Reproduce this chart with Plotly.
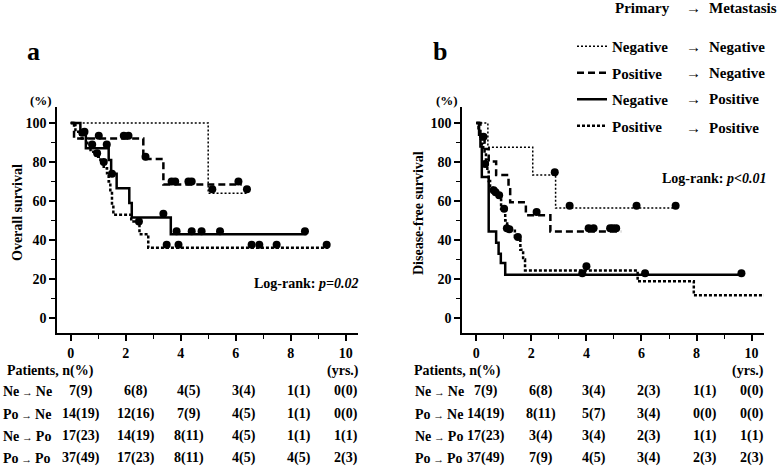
import plotly.graph_objects as go

W, H = 778, 467
FONT = "Liberation Serif, Times New Roman, serif"

# ---------------- panel a : overall survival (years, %) ----------------
a_nene_t = [0, 5.0, 6.45]
a_nene_s = [100, 64, 64]
a_nene_ct = [5.15, 6.41]
a_nene_cs = [66, 66]

a_pone_t = [0, 0.12, 2.64, 3.37, 6.22]
a_pone_s = [100, 92, 81.5, 68.5, 68.5]
a_pone_ct = [1.02, 1.93, 2.1, 2.72, 3.67, 3.8, 4.28, 4.4, 6.1]
a_pone_cs = [93.5, 93.5, 93.5, 82.7, 70, 70, 70, 70, 70]

a_nepo_t = [0, 0.35, 0.55, 1.38, 1.47, 1.67, 2.13, 2.22, 3.64, 8.58]
a_nepo_s = [100, 94, 87, 81, 74, 66.5, 59, 51.5, 43, 43]
a_nepo_ct = [0.42, 1.31, 3.37, 3.85, 4.4, 4.76, 5.43, 8.52]
a_nepo_cs = [95, 89, 53.5, 44.5, 44.5, 44.5, 44.5, 44.5]

a_popo_t = [0, 0.17, 0.4, 0.6, 0.72, 0.9, 1.08, 1.2, 1.32, 1.38, 1.44, 1.5,
            1.55, 2.2, 2.5, 2.82, 9.37]
a_popo_s = [100, 95.5, 92, 88.7, 85.3, 82.7, 80.2, 76.8, 74.2, 70, 64.8, 58,
            53, 49.5, 43, 36, 36]
a_popo_ct = [0.5, 0.78, 0.96, 1.2, 1.5, 2.48, 3.49, 3.92, 6.58, 6.86, 7.49, 9.31]
a_popo_cs = [95.5, 89, 84.5, 80, 74, 49.5, 37.5, 37.5, 37.5, 37.5, 37.5, 37.5]

# ---------------- panel b : disease-free survival ----------------
b_nene_t = [0, 0.42, 2.05, 2.88, 7.27]
b_nene_s = [100, 87.5, 73.3, 56.4, 56.4]
b_nene_ct = [2.85, 3.39, 5.82, 7.24]
b_nene_cs = [74.7, 57.6, 57.6, 57.6]

b_pone_t = [0, 0.15, 0.3, 0.45, 0.72, 1.17, 1.23, 1.8, 2.69, 5.26]
b_pone_s = [100, 93, 86.7, 80.2, 73.3, 66, 59.3, 52.7, 44.4, 44.4]
b_pone_ct = [2.19, 4.08, 4.26, 4.86, 4.96, 5.08]
b_pone_cs = [54.3, 46, 46, 46, 46, 46]

b_nepo_t = [0, 0.1, 0.15, 0.2, 0.45, 0.72, 0.81, 0.89, 1.05, 9.65]
b_nepo_s = [100, 94, 88, 72.3, 44.4, 38.6, 33, 28.2, 22.2, 22.2]
b_nepo_ct = [3.85, 6.13, 9.63]
b_nepo_cs = [23, 23, 23]

b_popo_t = [0, 0.08, 0.12, 0.16, 0.2, 0.25, 0.3, 0.35, 0.4, 0.45, 0.5, 0.6,
            0.75, 0.9, 1.05, 1.12, 1.4, 1.6, 1.7, 1.77, 5.86, 7.9, 10.49]
b_popo_s = [100, 97.3, 94.6, 91.9, 89.2, 86.5, 83.8, 81.1, 75.7, 70.3, 67.6, 64.9,
            62, 56, 50, 45.5, 41.5, 35, 30, 24.4, 18.8, 11.6, 11.6]
b_popo_ct = [0.26, 0.32, 0.63, 0.7, 0.83, 1.01, 1.11, 1.2, 1.51, 4.0, 10.47]
b_popo_cs = [93, 79, 65.5, 64.5, 63, 56, 46, 45.5, 41.5, 26.5, 13.2]

# ---------------- numbers at risk ----------------
risk_years = [0, 2, 4, 6, 8, 10]
ARR = "<span style='font-size:11px'> \u2192 </span>"
row_labels = ["Ne" + ARR + "Ne", "Po" + ARR + "Ne", "Ne" + ARR + "Po", "Po" + ARR + "Po"]
a_risk_nene = ["7(9)", "6(8)", "4(5)", "3(4)", "1(1)", "0(0)"]
a_risk_pone = ["14(19)", "12(16)", "7(9)", "4(5)", "1(1)", "0(0)"]
a_risk_nepo = ["17(23)", "14(19)", "8(11)", "4(5)", "1(1)", "1(1)"]
a_risk_popo = ["37(49)", "17(23)", "8(11)", "4(5)", "4(5)", "2(3)"]
b_risk_nene = ["7(9)", "6(8)", "3(4)", "2(3)", "1(1)", "0(0)"]
b_risk_pone = ["14(19)", "8(11)", "5(7)", "3(4)", "0(0)", "0(0)"]
b_risk_nepo = ["17(23)", "3(4)", "3(4)", "2(3)", "1(1)", "1(1)"]
b_risk_popo = ["37(49)", "7(9)", "4(5)", "3(4)", "2(3)", "2(3)"]

# legend text
legend_first = ["Negative", "Positive", "Negative", "Positive"]
legend_second = ["Negative", "Negative", "Positive", "Positive"]

styles = [
    dict(width=1.5, dash="2px,2px"),
    dict(width=2.5, dash="7px,4px"),
    dict(width=2.5, dash="solid"),
    dict(width=2.5, dash="3px,2px"),
]


def px(x):
    return x / W


def py(y):
    return 1 - y / H


fig = go.Figure()


def add_km(t, s, ct, cs, k, xa, ya, show):
    grp = "g%d" % k
    fig.add_trace(go.Scatter(
        x=t, y=s, mode="lines", xaxis=xa, yaxis=ya,
        line=dict(shape="hv", color="black", **styles[k]),
        name=legend_first[k], legendgroup=grp, showlegend=show,
        hoverinfo="skip"))
    fig.add_trace(go.Scatter(
        x=ct, y=cs, mode="markers", xaxis=xa, yaxis=ya,
        marker=dict(symbol="circle", size=8, color="black"),
        legendgroup=grp, showlegend=False, cliponaxis=False))


panel_a = [(a_nene_t, a_nene_s, a_nene_ct, a_nene_cs),
           (a_pone_t, a_pone_s, a_pone_ct, a_pone_cs),
           (a_nepo_t, a_nepo_s, a_nepo_ct, a_nepo_cs),
           (a_popo_t, a_popo_s, a_popo_ct, a_popo_cs)]
panel_b = [(b_nene_t, b_nene_s, b_nene_ct, b_nene_cs),
           (b_pone_t, b_pone_s, b_pone_ct, b_pone_cs),
           (b_nepo_t, b_nepo_s, b_nepo_ct, b_nepo_cs),
           (b_popo_t, b_popo_s, b_popo_ct, b_popo_cs)]

for k, d in enumerate(panel_a):
    add_km(*d, k, "x", "y", True)
for k, d in enumerate(panel_b):
    add_km(*d, k, "x2", "y2", False)

tfont = dict(family=FONT, size=14, color="black", weight="bold")
xcommon = dict(showline=True, linecolor="black", linewidth=1.5, ticks="outside",
               ticklen=6, tickwidth=1.5, tickcolor="black", showgrid=False,
               zeroline=False, tick0=0, dtick=2, tickfont=tfont,
               minor=dict(ticks="outside", ticklen=4, tickwidth=1.2,
                          tickcolor="black", dtick=1, showgrid=False))
ycommon = dict(showline=True, linecolor="black", linewidth=1.5, ticks="outside",
               ticklen=6, tickwidth=1.5, tickcolor="black", showgrid=False,
               zeroline=False, tick0=0, dtick=20, tickfont=tfont,
               range=[-7.7, 108.2], domain=[py(333), py(107)],
               minor=dict(ticks="outside", ticklen=4, tickwidth=1.2,
                          tickcolor="black", dtick=10, showgrid=False))

fig.update_layout(
    width=W, height=H,
    margin=dict(l=0, r=0, t=0, b=0),
    paper_bgcolor="white", plot_bgcolor="white",
    font=dict(family=FONT, color="black"),
    xaxis=dict(xcommon, domain=[px(57), px(358)], range=[-0.5, 10.45], anchor="y"),
    yaxis=dict(ycommon, anchor="x"),
    xaxis2=dict(xcommon, domain=[px(462), px(764)], range=[-0.52, 10.45], anchor="y2"),
    yaxis2=dict(ycommon, anchor="x2"),
    showlegend=True,
    legend=dict(x=px(572), y=py(30), xanchor="left", yanchor="top",
                bgcolor="rgba(0,0,0,0)", tracegroupgap=4, traceorder="grouped",
                font=dict(family=FONT, size=15, color="black", weight="bold")),
)

ann = []


def note(text, x, y, size=14, xanchor="center", xref="paper", xshift=0, angle=0):
    ann.append(dict(text=text, x=x, y=py(y), xref=xref, yref="paper",
                    xanchor=xanchor, yanchor="middle", showarrow=False,
                    xshift=xshift, textangle=angle,
                    font=dict(family=FONT, size=size, color="black", weight="bold")))


# panel letters, units, axis titles
note("a", px(33), 51, size=26)
note("b", px(440), 51, size=26)
note("(%)", px(41), 100, size=13)
note("(%)", px(447), 100, size=13)
note("Overall survival", px(17), 213, size=14, angle=-90)
note("Disease-free survival", px(418), 213, size=14, angle=-90)
note("Log-rank: <i>p=0.02</i>", px(306), 283, size=14)
note("Log-rank: <i>p<0.01</i>", px(714), 178, size=14)

# legend header and arrows
note("Primary", px(613), 8, size=15, xanchor="left")
note("\u2192", px(693), 8, size=15)
note("Metastasis", px(707), 8, size=15, xanchor="left")
legend_rows = [47, 73, 99, 128]
for yy, second in zip(legend_rows, legend_second):
    note("\u2192", px(693), yy, size=15)
    note(second, px(707), yy, size=15, xanchor="left")

# risk tables
table_rows = [391, 414, 436, 458]
col_shift = [10, 10, 8, 8, 8, 0]
tables = [("x", 5, 343, 1, [a_risk_nene, a_risk_pone, a_risk_nepo, a_risk_popo]),
          ("x2", 412, 748, 413, [b_risk_nene, b_risk_pone, b_risk_nepo, b_risk_popo])]
for xref, pleft, yrs_x, lab_x, rows in tables:
    note("Patients, n(%)", px(pleft), 371, size=14, xanchor="left")
    note("(yrs.)", px(yrs_x), 371, size=14)
    for yy, lab, vals in zip(table_rows, row_labels, rows):
        note(lab, px(lab_x), yy, size=14, xanchor="left")
        for yr, v, sh in zip(risk_years, vals, col_shift):
            note(v, yr, yy, size=14, xref=xref, xshift=sh)

fig.update_layout(annotations=ann)

fig.write_html("out.html", config={"displayModeBar": False},
               post_script="document.body.style.margin='0';document.body.style.overflow='hidden';")
